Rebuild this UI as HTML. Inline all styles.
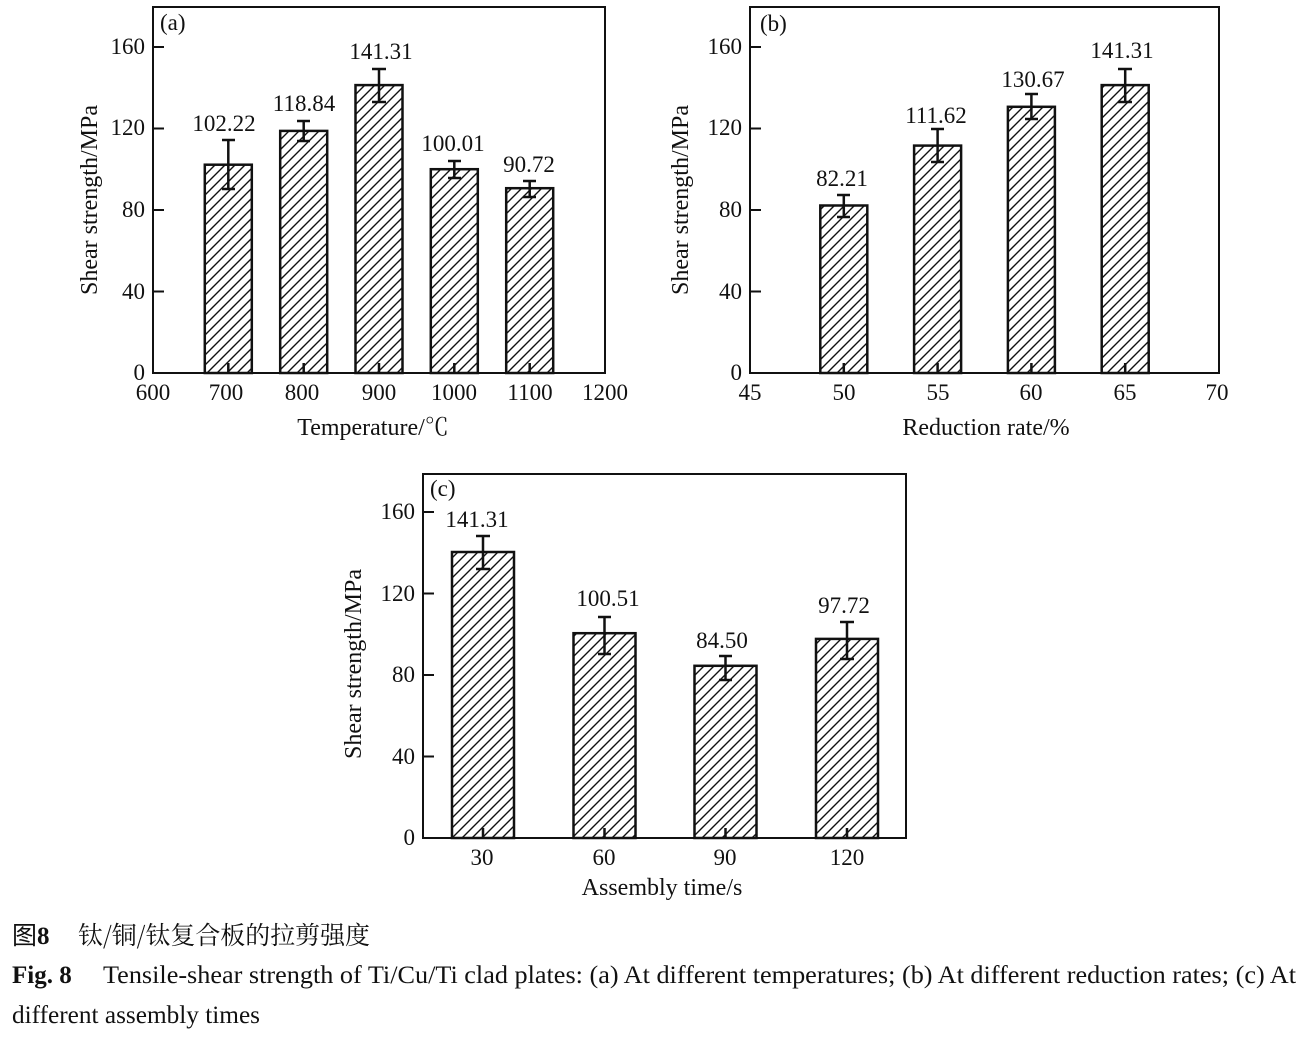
<!DOCTYPE html>
<html><head><meta charset="utf-8"><style>
html,body{margin:0;padding:0;background:#fff;}
svg{display:block;font-family:"Liberation Serif","Noto Serif CJK SC",serif;}
</style></head><body>
<svg width="1308" height="1039" viewBox="0 0 1308 1039" xmlns="http://www.w3.org/2000/svg">
<defs>
<pattern id="h" patternUnits="userSpaceOnUse" width="10" height="10">
<path d="M-2,12 L12,-2 M-2,2 L2,-2 M8,12 L12,8" stroke="#111" stroke-width="1.4"/>
</pattern>
</defs>
<g fill="none" stroke="#111" stroke-width="2">
<rect x="153" y="7" width="452" height="366"/>
<path d="M153,47h11M153,128.5h11M153,210h11M153,291.5h11"/>
<rect x="750" y="7" width="469" height="366"/>
<path d="M750,47h11M750,128.5h11M750,210h11M750,291.5h11"/>
<rect x="423" y="474" width="483" height="364"/>
<path d="M423,512h11M423,593.5h11M423,675h11M423,756.5h11"/>
</g>
<g fill="url(#h)" stroke="#111" stroke-width="2.5">
<rect x="204.8" y="164.7" width="47" height="208.3"/>
<rect x="280.2" y="130.9" width="47" height="242.1"/>
<rect x="355.5" y="85.1" width="47" height="287.9"/>
<rect x="430.8" y="169.2" width="47" height="203.8"/>
<rect x="506.2" y="188.2" width="47" height="184.8"/>
<rect x="820.3" y="205.5" width="47" height="167.5"/>
<rect x="914.1" y="145.6" width="47" height="227.4"/>
<rect x="1007.9" y="106.8" width="47" height="266.2"/>
<rect x="1101.7" y="85.1" width="47" height="287.9"/>
<rect x="452" y="552" width="62" height="286"/>
<rect x="573.5" y="633.2" width="62" height="204.8"/>
<rect x="694.5" y="665.8" width="62" height="172.2"/>
<rect x="816" y="638.9" width="62" height="199.1"/>
</g>
<g stroke="#111" stroke-width="2.5" fill="none">
<path d="M228.3,140v49M222,140h13M222,189h13 M228.3,373v-10"/>
<path d="M303.7,121v20M297,121h13M297,141h13 M303.7,373v-10"/>
<path d="M379,69v33M372,69h14M372,102h14 M379,373v-10"/>
<path d="M454.3,161v17M448,161h13M448,178h13 M454.3,373v-10"/>
<path d="M529.7,181v16M523,181h13M523,197h13 M529.7,373v-10"/>
<path d="M843.8,195v22M837,195h13M837,217h13 M843.8,373v-10"/>
<path d="M937.6,129v33M931,129h13M931,162h13 M937.6,373v-10"/>
<path d="M1031.4,94v25M1025,94h13M1025,119h13 M1031.4,373v-10"/>
<path d="M1125.2,69v33M1118,69h14M1118,102h14 M1125.2,373v-10"/>
<path d="M483,536v33M476,536h14M476,569h14 M483,838v-10"/>
<path d="M604.5,617v37M598,617h13M598,654h13 M604.5,838v-10"/>
<path d="M725.5,656v24M719,656h13M719,680h13 M725.5,838v-10"/>
<path d="M847,622v37M840,622h14M840,659h14 M847,838v-10"/>
</g>
<g font-size="23" fill="#111" text-anchor="middle">
<text x="224" y="131">102.22</text>
<text x="304" y="111">118.84</text>
<text x="381" y="59">141.31</text>
<text x="453" y="151">100.01</text>
<text x="529" y="172">90.72</text>
<text x="842" y="186">82.21</text>
<text x="936" y="123">111.62</text>
<text x="1033" y="87">130.67</text>
<text x="1122" y="58">141.31</text>
<text x="477" y="527">141.31</text>
<text x="608" y="606">100.51</text>
<text x="722" y="648">84.50</text>
<text x="844" y="613">97.72</text>
</g>
<g font-size="23" fill="#111">
<text x="160" y="30">(a)</text>
<text x="760" y="31">(b)</text>
<text x="430" y="496">(c)</text>
<g text-anchor="end">
<text x="145" y="54">160</text><text x="145" y="135">120</text><text x="145" y="217">80</text><text x="145" y="299">40</text><text x="145" y="380">0</text>
<text x="742" y="54">160</text><text x="742" y="135">120</text><text x="742" y="217">80</text><text x="742" y="299">40</text><text x="742" y="380">0</text>
<text x="415" y="519">160</text><text x="415" y="601">120</text><text x="415" y="682">80</text><text x="415" y="764">40</text><text x="415" y="845">0</text>
</g>
<g text-anchor="middle">
<text x="153" y="400">600</text><text x="226" y="400">700</text><text x="302" y="400">800</text><text x="379" y="400">900</text><text x="454" y="400">1000</text><text x="530" y="400">1100</text><text x="605" y="400">1200</text>
<text x="750" y="400">45</text><text x="844" y="400">50</text><text x="938" y="400">55</text><text x="1031" y="400">60</text><text x="1125" y="400">65</text><text x="1217" y="400">70</text>
<text x="482" y="865">30</text><text x="604" y="865">60</text><text x="725" y="865">90</text><text x="847" y="865">120</text>
<text x="373" y="435" font-size="24">Temperature/℃</text>
<text x="986" y="435" font-size="24">Reduction rate/%</text>
<text x="662" y="895" font-size="24">Assembly time/s</text>
<text transform="translate(97,200) rotate(-90)" font-size="24">Shear strength/MPa</text>
<text transform="translate(688,200) rotate(-90)" font-size="24">Shear strength/MPa</text>
<text transform="translate(361,664) rotate(-90)" font-size="24">Shear strength/MPa</text>
</g>
</g>
<g font-size="25" fill="#111">
<text x="12" y="944"><tspan font-family="Noto Sans CJK SC, sans-serif">图</tspan><tspan font-weight="bold">8</tspan><tspan x="78" font-family="Noto Serif CJK SC, serif" textLength="292" lengthAdjust="spacingAndGlyphs">钛/铜/钛复合板的拉剪强度</tspan></text>
<text x="12" y="983"><tspan font-weight="bold">Fig. 8</tspan></text>
<text x="103" y="983" textLength="1193" lengthAdjust="spacingAndGlyphs">Tensile-shear strength of Ti/Cu/Ti clad plates: (a) At different temperatures; (b) At different reduction rates; (c) At</text>
<text x="12" y="1023" textLength="248" lengthAdjust="spacingAndGlyphs">different assembly times</text>
</g>
</svg>
</body></html>
